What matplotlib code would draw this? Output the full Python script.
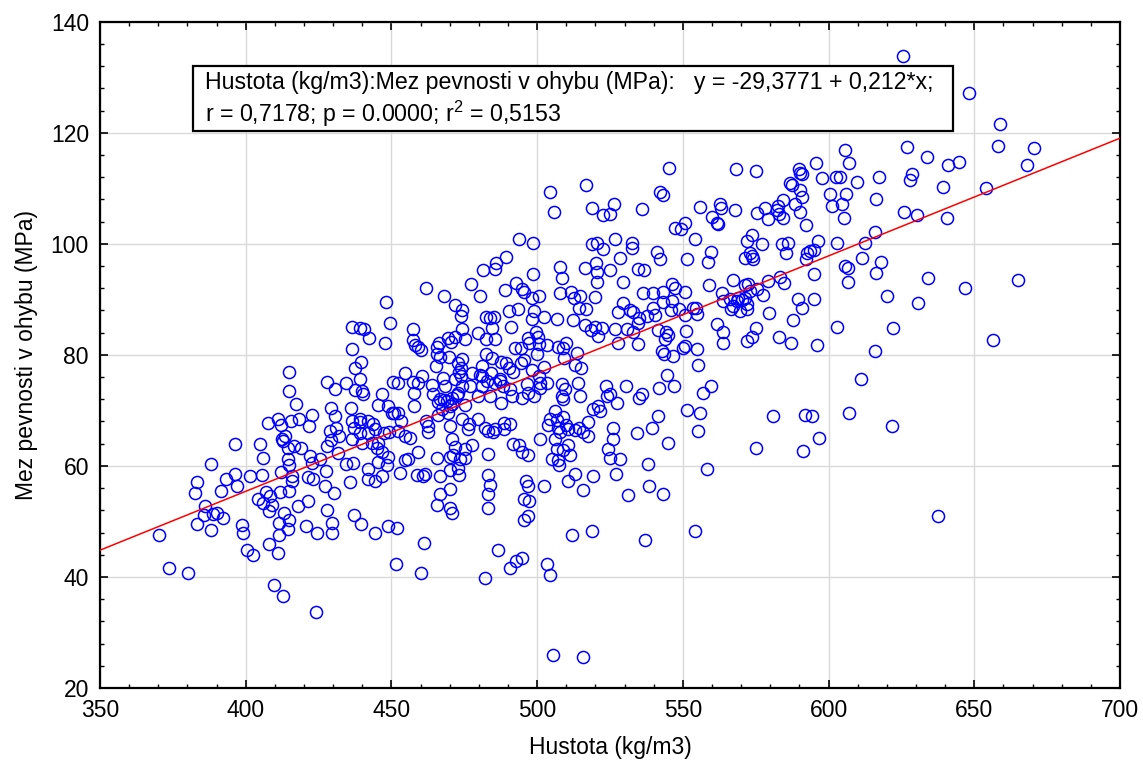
import numpy as np
import matplotlib
matplotlib.use("Agg")
import matplotlib.pyplot as plt
from matplotlib.ticker import MultipleLocator
from matplotlib.patches import Rectangle

plt.rcParams['font.family'] = ['Liberation Sans', 'DejaVu Sans']
plt.rcParams['mathtext.fontset'] = 'custom'
plt.rcParams['mathtext.rm'] = 'Liberation Sans'
plt.rcParams['mathtext.default'] = 'regular'

# (density kg/m3, bending strength MPa), grouped by area
low_left = [
    (370.4, 47.5), (373.6, 41.6), (380.3, 40.7), (383.3, 57.1), (382.6, 55.1), (383.3, 49.6),
    (388.0, 48.5), (386.2, 52.7), (385.6, 51.2), (388.7, 51.3), (390.2, 51.5), (392.3, 50.6),
    (391.4, 55.5), (393.2, 57.7), (396.4, 58.5), (396.9, 56.3), (388.1, 60.3), (401.5, 58.1),
    (405.6, 58.4), (398.6, 49.4), (398.9, 47.9), (400.4, 44.8), (402.5, 44.0), (404.3, 54.0),
    (405.8, 53.3), (406.8, 55.3), (408.4, 54.5), (409.1, 52.9), (408.1, 51.8), (412.2, 58.9),
    (414.7, 60.2), (411.9, 55.3), (413.2, 51.5), (415.0, 50.3), (411.5, 49.7), (411.3, 47.6),
    (408.1, 46.0), (411.0, 44.3), (414.4, 48.7), (409.7, 38.5), (412.7, 36.6), (416.0, 58.2),
    (415.9, 57.2), (414.7, 55.5), (417.9, 52.7), (421.4, 53.6), (420.6, 49.2), (424.4, 48.0),
    (427.3, 56.4), (430.3, 55.1), (427.8, 52.1), (429.6, 49.7), (429.6, 48.0), (434.4, 60.3),
    (435.8, 57.1), (437.3, 51.2), (439.4, 49.5), (424.1, 33.6), (421.5, 58.0), (423.2, 57.7),
    (427.6, 59.0), (436.8, 60.6),
]

mid_left = [
    (436.6, 85.1), (436.3, 81.1), (439.2, 84.8), (415.0, 77.0), (414.7, 73.4), (417.4, 71.2),
    (428.0, 75.1), (430.5, 73.9), (434.4, 74.9), (437.6, 77.7), (439.2, 75.6), (437.5, 73.6),
    (436.0, 70.5), (439.2, 68.4), (436.6, 68.0), (437.2, 66.8), (436.3, 64.8), (439.3, 66.0),
    (411.0, 68.5), (407.8, 67.7), (412.1, 67.4), (415.4, 68.1), (418.4, 68.5), (422.8, 69.1),
    (421.6, 67.1), (429.1, 70.4), (430.5, 69.0), (428.8, 66.2), (430.9, 66.8), (432.1, 65.4),
    (429.4, 64.7), (427.8, 63.5), (431.7, 62.4), (412.5, 64.9), (413.6, 65.4), (412.7, 64.5),
    (414.4, 63.2), (416.6, 63.6), (414.4, 61.2), (419.1, 63.2), (422.1, 61.8), (425.5, 61.2),
    (422.9, 60.6), (404.8, 64.0), (405.8, 61.4), (396.2, 63.9),
]

centre = [
    (493.9, 100.8), (498.7, 100.1), (518.7, 99.9), (520.4, 100.1), (522.7, 99.1), (489.3, 97.7),
    (485.8, 96.5), (485.5, 95.5), (481.5, 95.2), (498.7, 94.6), (507.9, 95.9), (508.7, 93.8),
    (516.4, 95.6), (520.1, 96.5), (520.4, 95.0), (525.0, 95.2), (520.7, 93.1), (461.9, 92.1),
    (477.3, 92.7), (480.3, 90.6), (468.0, 90.6), (471.7, 88.9), (474.3, 88.0), (473.9, 87.0),
    (448.1, 89.5), (449.5, 85.7), (447.8, 82.1), (440.6, 84.6), (442.4, 83.0), (489.1, 91.7),
    (492.8, 93.0), (494.7, 91.8), (495.5, 91.3), (498.4, 90.3), (500.8, 90.6), (508.0, 91.1),
    (511.6, 91.3), (512.5, 90.3), (514.7, 90.6), (516.8, 88.3), (519.8, 90.5), (514.4, 88.5),
    (474.1, 84.6), (471.8, 83.3), (475.2, 82.8), (479.8, 84.0), (482.6, 86.9), (483.7, 86.6),
    (485.2, 86.9), (484.6, 84.9), (482.3, 82.9), (485.4, 82.9), (490.9, 85.0), (493.6, 88.3),
    (490.2, 87.9), (499.0, 87.9), (498.2, 86.4), (502.5, 86.8), (506.7, 86.5), (499.7, 84.1),
    (496.9, 83.0), (500.2, 83.3), (512.4, 86.3), (516.4, 85.3), (519.8, 85.0), (522.3, 84.9),
    (518.4, 84.5), (521.0, 83.4), (457.4, 84.6), (457.3, 82.6), (458.1, 81.7), (460.2, 80.8),
    (459.0, 81.5), (465.5, 81.5), (466.3, 82.2), (469.4, 83.0), (470.4, 82.4), (465.5, 80.1),
    (466.8, 79.7), (465.2, 78.0), (469.8, 79.7), (474.1, 79.3), (473.0, 78.5), (473.9, 77.7),
    (473.3, 77.0), (481.0, 78.0), (482.5, 80.1), (484.4, 79.4), (487.7, 78.8), (489.2, 78.5),
    (490.5, 77.6), (494.4, 78.5), (495.5, 79.0), (492.4, 81.2), (494.5, 81.2), (497.2, 82.1),
    (500.8, 82.0), (503.5, 81.8), (507.3, 81.5), (509.8, 82.2), (508.8, 81.3), (513.6, 80.3),
    (515.0, 77.6), (512.9, 78.1), (509.3, 79.5), (499.8, 80.1), (502.4, 77.8), (498.2, 77.2),
    (500.5, 76.2), (491.6, 77.0), (487.4, 75.6), (480.5, 76.4), (484.1, 76.8), (439.6, 78.8),
    (439.8, 73.5), (440.4, 72.9), (439.2, 67.9), (439.8, 64.2),
]

centre_low = [
    (450.7, 75.1), (452.4, 74.9), (454.7, 76.7), (457.5, 75.1), (459.0, 74.9), (460.6, 76.2),
    (463.8, 74.6), (457.9, 73.1), (457.9, 70.8), (446.7, 72.9), (445.5, 71.0), (448.7, 70.8),
    (450.1, 69.6), (451.0, 69.5), (452.4, 69.6), (453.3, 68.0), (452.4, 66.2), (449.3, 66.1),
    (443.8, 67.5), (441.8, 68.1), (442.1, 66.0), (444.4, 66.6), (447.6, 66.0), (443.4, 64.2),
    (445.5, 64.1), (444.9, 63.2), (446.7, 62.5), (448.9, 61.6), (448.4, 60.1), (445.3, 60.7),
    (442.1, 59.4), (454.7, 65.4), (456.4, 65.1), (461.8, 68.1), (462.4, 67.2), (462.4, 66.1),
    (459.0, 62.5), (455.8, 61.3), (454.7, 61.0), (465.9, 69.1), (467.5, 70.3), (468.2, 71.9),
    (466.1, 71.5), (469.0, 71.6), (470.7, 72.2), (470.7, 71.2), (469.3, 69.6), (472.4, 72.8),
    (475.2, 71.0), (473.0, 73.2), (474.1, 74.4), (471.8, 75.6), (473.9, 76.2), (467.8, 75.9),
    (468.4, 74.4), (464.3, 72.9), (466.7, 72.0), (470.1, 70.8), (477.0, 74.4), (477.5, 76.8),
    (481.0, 76.2), (482.7, 75.3), (481.0, 74.4), (479.8, 72.6), (483.8, 72.6), (485.5, 75.0),
    (487.3, 75.3), (488.4, 74.4), (490.7, 73.8), (487.5, 71.3), (491.3, 72.6), (494.7, 72.2),
    (497.0, 73.2), (499.0, 72.6), (501.0, 75.0), (503.3, 75.0), (496.4, 74.7), (501.0, 74.1),
    (506.1, 69.8), (504.4, 68.5), (503.6, 67.3), (506.7, 68.2), (509.0, 68.8), (509.8, 67.3),
    (510.7, 66.7), (507.3, 66.8), (513.0, 66.4), (517.6, 67.9), (519.3, 70.3), (521.6, 69.8),
    (520.8, 70.8), (523.9, 72.6), (525.0, 72.9), (523.5, 74.4), (514.5, 66.8), (515.9, 66.1),
    (508.4, 74.7), (509.6, 73.8), (508.6, 72.6), (509.0, 72.0), (513.9, 74.9), (514.7, 72.6),
    (507.9, 66.1), (506.1, 64.9), (510.7, 63.7), (509.0, 62.8), (511.3, 61.9), (506.7, 63.1),
    (507.1, 61.0), (505.0, 61.3), (507.5, 60.1), (501.0, 64.9), (491.8, 64.0), (493.8, 63.7),
    (494.7, 62.5), (496.8, 62.0), (483.3, 62.2), (477.5, 63.7), (475.2, 63.1), (471.8, 63.4),
    (471.2, 61.9), (470.1, 61.6), (473.5, 61.3), (475.2, 61.4), (479.8, 68.4), (482.1, 66.9),
    (483.3, 66.3), (485.0, 66.1), (488.6, 67.8), (490.7, 67.5), (488.7, 66.6), (485.5, 66.6),
    (476.6, 67.5), (476.2, 66.6), (470.1, 67.2), (470.7, 64.8), (474.1, 68.4), (465.5, 61.5),
    (517.6, 65.4), (526.2, 64.8), (525.0, 61.5), (524.4, 63.0),
]

mid_right = [
    (526.7, 100.8), (532.4, 100.1), (532.4, 99.3), (528.4, 97.4), (541.0, 98.5), (542.2, 97.2),
    (551.3, 97.3), (554.2, 100.8), (559.6, 98.6), (558.5, 96.8), (571.9, 100.5), (577.1, 99.9),
    (573.0, 98.4), (573.6, 97.8), (574.2, 97.2), (571.3, 97.5), (583.9, 99.9), (586.2, 100.2),
    (585.4, 98.4), (592.5, 98.4), (593.6, 98.7), (595.0, 98.9), (596.5, 100.5), (592.3, 97.3),
    (602.8, 100.1), (605.6, 96.0), (606.8, 95.7), (611.4, 97.4), (595.0, 94.6), (606.5, 93.1),
    (534.7, 95.5), (536.7, 95.3), (529.6, 93.2), (546.2, 92.8), (547.3, 92.1), (550.7, 91.3),
    (543.3, 91.3), (539.9, 91.2), (536.4, 91.2), (559.1, 92.5), (567.1, 93.4), (563.3, 91.2),
    (571.3, 92.5), (572.5, 92.7), (573.1, 91.5), (575.3, 91.9), (577.6, 90.7), (579.3, 93.3),
    (583.3, 94.1), (584.7, 93.0), (589.6, 90.0), (590.8, 88.4), (595.0, 90.1), (587.7, 86.2),
    (529.3, 89.3), (527.9, 87.7), (531.9, 88.1), (533.0, 87.8), (535.1, 86.7), (537.8, 87.0),
    (539.9, 88.5), (540.4, 87.1), (543.1, 89.6), (545.8, 88.1), (546.2, 89.7), (548.8, 88.2),
    (550.7, 87.1), (553.4, 88.5), (554.5, 88.5), (555.0, 87.3), (551.1, 84.3), (526.7, 84.7),
    (530.7, 84.7), (533.0, 84.1), (534.7, 85.8), (527.9, 82.1), (534.7, 81.9), (541.6, 84.5),
    (544.2, 84.1), (545.0, 83.5), (543.9, 82.8), (542.7, 80.7), (543.5, 80.1), (546.7, 79.8),
    (549.9, 81.3), (550.7, 81.6), (555.0, 81.1), (563.9, 89.7), (566.2, 90.0), (567.1, 88.8),
    (568.5, 89.7), (569.0, 90.3), (570.2, 89.9), (571.3, 90.3), (571.9, 89.1), (572.1, 88.2),
    (569.6, 87.9), (566.4, 88.2), (579.7, 87.5), (561.8, 85.5), (563.7, 84.1), (563.7, 82.2),
    (572.1, 82.5), (573.6, 83.3), (575.0, 84.9), (583.0, 83.3), (587.0, 82.2), (596.2, 81.7),
    (603.0, 85.0), (555.3, 78.1), (544.7, 76.4), (547.1, 74.4), (541.8, 74.1), (530.5, 74.4),
    (527.3, 71.4), (535.9, 72.9), (535.1, 72.2), (556.8, 73.1), (559.5, 74.3), (541.6, 68.9),
    (539.3, 66.9), (534.4, 66.0), (526.1, 66.9), (528.4, 61.3), (538.2, 60.4), (545.0, 64.1),
    (551.3, 70.0), (555.9, 69.6), (555.3, 66.2), (558.2, 59.5), (580.8, 69.0), (591.9, 69.1),
    (594.2, 69.0), (607.1, 69.5), (596.7, 65.0), (591.1, 62.7), (575.1, 63.2), (611.1, 75.6),
]

far_right = [
    (612.5, 100.1), (617.9, 96.7), (616.2, 94.8), (634.2, 93.9), (646.8, 92.1), (665.1, 93.4),
    (620.0, 90.6), (630.8, 89.4), (622.0, 84.9), (656.3, 82.6), (615.9, 80.7), (621.9, 67.2),
]

upper = [
    (625.7, 133.9), (648.3, 127.2), (658.8, 121.5), (658.3, 117.6), (670.6, 117.3), (668.0, 114.2),
    (626.8, 117.4), (633.7, 115.7), (641.1, 114.2), (644.8, 114.7), (617.3, 112.1), (628.5, 112.5),
    (627.9, 111.5), (639.4, 110.3), (653.9, 110.0), (616.3, 108.1), (625.9, 105.7), (630.2, 105.1),
    (640.8, 104.6), (615.9, 102.1), (605.7, 116.9), (607.1, 114.5), (595.7, 114.6), (597.6, 111.8),
    (602.6, 112.0), (603.9, 112.0), (609.9, 111.2), (590.0, 113.5), (590.2, 112.8), (590.8, 112.6),
    (586.6, 110.9), (587.3, 110.5), (590.2, 109.7), (591.0, 108.5), (588.5, 107.1), (600.5, 109.0),
    (606.0, 108.9), (601.1, 106.8), (604.6, 107.2), (605.4, 104.7), (590.2, 105.8), (592.3, 103.3),
    (568.2, 113.5), (575.0, 113.2), (545.2, 113.7), (542.2, 109.3), (543.3, 108.8), (536.1, 106.3),
    (526.4, 107.2), (525.0, 105.3), (555.9, 106.7), (562.8, 107.1), (563.0, 106.5), (567.9, 106.0),
    (559.9, 104.9), (561.6, 103.7), (562.2, 103.6), (547.3, 102.9), (549.3, 102.6), (550.7, 103.8),
    (575.3, 105.6), (578.2, 106.4), (582.2, 106.0), (584.3, 107.8), (583.0, 105.3), (584.5, 104.7),
    (579.1, 104.5), (582.8, 106.8), (573.6, 101.6), (504.4, 109.4), (505.9, 105.7), (516.7, 110.6),
    (518.9, 106.5), (522.7, 105.2),
]

lower = [
    (442.1, 57.6), (444.4, 57.3), (446.7, 58.1), (452.9, 58.7), (458.7, 58.4), (461.0, 58.2),
    (461.5, 58.5), (466.7, 58.1), (470.1, 59.3), (473.0, 59.7), (473.2, 58.4), (483.3, 58.4),
    (483.8, 56.6), (483.0, 55.0), (483.0, 52.4), (496.3, 57.2), (496.8, 56.4), (495.6, 54.0),
    (497.2, 53.6), (495.6, 50.3), (497.0, 51.0), (502.5, 56.3), (510.5, 57.2), (513.0, 58.5),
    (515.6, 55.7), (519.1, 58.2), (527.0, 58.5), (466.7, 55.0), (465.5, 53.0), (470.1, 55.8),
    (470.1, 52.4), (470.7, 51.6), (444.4, 47.9), (448.9, 49.1), (452.0, 48.8), (461.2, 46.1),
    (451.7, 42.4), (460.2, 40.8), (486.7, 44.9), (490.7, 41.6), (492.6, 42.8), (494.7, 43.4),
    (482.1, 39.9), (503.4, 42.4), (504.4, 40.4), (511.9, 47.5), (518.7, 48.2), (505.3, 26.0),
    (515.6, 25.5), (538.5, 56.3), (543.1, 54.9), (531.3, 54.8), (554.3, 48.2), (536.9, 46.7),
    (637.7, 51.0),
]

# regression reported in the chart
intercept = -29.3771
slope = 0.212
line1 = "Hustota (kg/m3):Mez pevnosti v ohybu (MPa):   y = -29,3771 + 0,212*x;"
line2 = "r = 0,7178; p = 0.0000; r$^2$ = 0,5153"

pts = np.array(low_left + mid_left + centre + centre_low + mid_right + far_right + upper + lower)
x, y = pts[:, 0], pts[:, 1]

W, H = 1143, 767
fig = plt.figure(figsize=(W / 100, H / 100), dpi=100)
ax = fig.add_axes([100 / W, 79 / H, 1020 / W, 666.3 / H])

ax.set_xlim(350, 700)
ax.set_ylim(20, 140)
ax.xaxis.set_major_locator(MultipleLocator(50))
ax.xaxis.set_minor_locator(MultipleLocator(10))
ax.yaxis.set_major_locator(MultipleLocator(20))
ax.yaxis.set_minor_locator(MultipleLocator(4))
ax.grid(True, which='major', color='#d9d9d9', lw=1.0)
ax.set_axisbelow(True)

ax.plot(x, y, 'o', mfc='none', mec='#0000ff', ms=8.7, mew=1.1, zorder=3)
xs = np.array(ax.get_xlim())
ax.plot(xs, intercept + slope * xs, color='red', lw=1.1, zorder=4)

ax.tick_params(which='both', direction='in', top=True, right=True, labelsize=16.5, colors='black')
ax.tick_params(which='major', length=6, width=1.2, pad=8)
ax.tick_params(which='minor', length=3, width=1.0)
for s in ax.spines.values():
    s.set_linewidth(1.6)

ax.set_xlabel("Hustota (kg/m3)", fontsize=16.5, labelpad=10)
ax.set_ylabel("Mez pevnosti v ohybu (MPa)", fontsize=16.5, labelpad=9)

box = Rectangle((193 / W, (H - 131) / H), 760 / W, 65.3 / H, transform=fig.transFigure,
                fc='white', ec='black', lw=1.6, zorder=10)
fig.patches.append(box)
fig.text(205 / W, (H - 82) / H, line1, fontsize=16.7, va='center', ha='left', zorder=11)
fig.text(205 / W, (H - 114) / H, line2, fontsize=16.7, va='center', ha='left', zorder=11)

fig.savefig("out.png", dpi=100)
